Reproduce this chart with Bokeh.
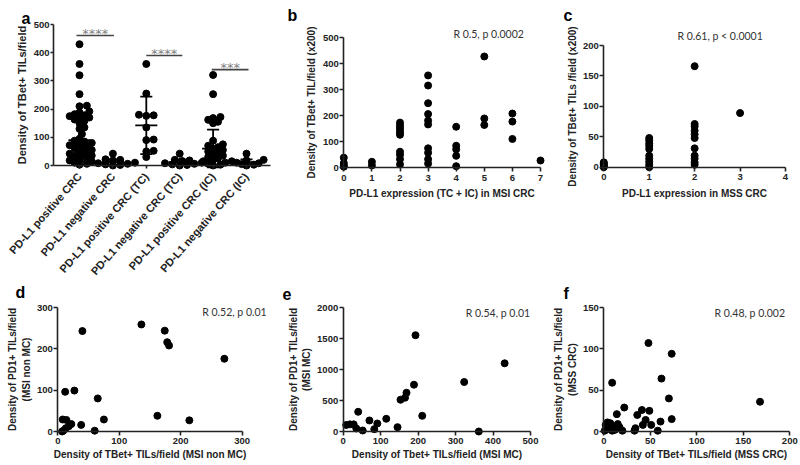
from bokeh.plotting import figure
from bokeh.models import Range1d, FixedTicker, Label
from bokeh.layouts import row, column
from bokeh.embed import file_html
from bokeh.resources import INLINE

# ---------------- data ----------------
# Panel a: density of TBet+ TILs/field per PD-L1 group
a_categories = ["PD-L1 positive CRC", "PD-L1 negative CRC", "PD-L1 positive CRC (TC)",
                "PD-L1 negative CRC (TC)", "PD-L1 positive CRC (IC)", "PD-L1 negative CRC (IC)"]
a_pos_crc = [430, 360, 320, 253, 212, 210, 192, 188, 182, 178, 175, 170, 168, 163, 158, 150,
             135, 130, 112, 95, 88, 85, 80, 76, 72, 68, 63, 58, 55, 50, 46, 42, 38, 35, 30,
             26, 22, 18, 14, 10, 6, 3]
a_neg_crc = [42, 22, 20, 18, 12, 10, 8, 6, 4, 2, 0]
a_pos_tc = [360, 255, 180, 178, 176, 135, 92, 90, 52, 50, 30]
a_neg_tc = [42, 20, 18, 16, 10, 8, 6, 4, 2, 0]
a_pos_ic = [321, 253, 172, 168, 162, 155, 150, 88, 75, 70, 65, 60, 55, 50, 45, 40, 35, 30,
            25, 20, 15, 10, 6, 3, 0]
a_neg_ic = [42, 20, 18, 15, 10, 8, 5, 3, 0]
a_mean = [90, 12, 142, 12, 60, 12]
a_sd = [75, 10, 102, 10, 67, 10]
a_sig_text = ["****", "****", "***"]
a_sig_from = [0.91, 3.0, 4.96]
a_sig_to = [2.03, 4.08, 6.06]
a_sig_y = [461, 390, 340]
a_yticks = [0, 100, 200, 300, 400, 500]

# Panel b: PD-L1 expression (TC + IC) in MSI CRC vs TBet+ density
b_x = [0, 0, 0, 0, 1, 1, 2, 2, 2, 2, 2, 2, 2, 2, 2, 2, 3, 3, 3, 3, 3, 3, 3, 3, 3, 3,
       4, 4, 4, 4, 4, 5, 5, 5, 6, 6, 6, 7]
b_y = [38, 17, 9, 3, 22, 8, 173, 163, 153, 143, 133, 126, 61, 49, 32, 12,
       355, 316, 248, 206, 181, 166, 74, 57, 32, 15,
       157, 84, 70, 45, 5, 428, 189, 164, 208, 177, 110, 27]
b_xticks = [0, 1, 2, 3, 4, 5, 6, 7]
b_yticks = [0, 100, 200, 300, 400, 500]

# Panel c: PD-L1 expression in MSS CRC vs TBet+ density
c_x = [0, 0, 0, 0, 0, 1, 1, 1, 1, 1, 1, 1, 1, 1, 1,
       2, 2, 2, 2, 2, 2, 2, 2, 2, 2, 2, 3]
c_y = [8, 6, 4, 2, 0, 48, 44, 39, 35, 30, 19, 14, 9, 4, 0,
       166, 71, 67, 60, 54, 48, 31, 19, 14, 8, 4, 89]
c_xticks = [0, 1, 2, 3, 4]
c_yticks = [0, 50, 100, 150, 200]

# Panel d: MSI non MC
d_x = [40, 136, 174, 178, 181, 271, 12, 27, 65, 8, 14, 75, 162, 214, 38, 22, 18, 13, 9, 60, 7]
d_y = [243, 259, 244, 216, 208, 176, 96, 99, 80, 29, 28, 29, 38, 27, 16, 18, 13, 8, 2, 2, 0]
d_xticks = [0, 100, 200, 300]
d_yticks = [0, 100, 200, 300]

# Panel e: MSI MC
e_x = [193, 431, 323, 189, 169, 165, 153, 211, 40, 115, 70, 91, 8, 18, 28, 35, 52, 83, 145, 362]
e_y = [1553, 1100, 798, 755, 625, 545, 512, 253, 318, 205, 178, 129, 105, 115, 115, 49, 16, 38,
       70, 0]
e_xticks = [0, 100, 200, 300, 400, 500]
e_yticks = [0, 500, 1000, 1500, 2000]

# Panel f: MSS CRC
f_x = [48, 73, 62, 9, 70, 168, 22, 41, 49, 14, 36, 61, 73, 45, 42, 51, 34, 33, 58, 15, 17, 20,
       2, 4, 7, 3, 6, 10, 1, 9, 12]
f_y = [107, 94, 64, 59, 40, 36, 29, 26, 25, 21, 20, 12, 15, 14, 8, 8, 4, 1, 1, 9, 5, 1,
       8, 11, 10, 5, 3, 6, 1, 1, 2]
f_xticks = [0, 50, 100, 150, 200]
f_yticks = [0, 50, 100, 150]

# ---------------- styling helpers ----------------
FONT = "Liberation Sans"
TXT = "#222222"
AX = "#222222"
NOTE_FONT = "Lato"


def make_fig(cx, cy, w, h, xa, xa_px, xb, xb_px, ya, ya_py, yb, yb_py):
    """Figure whose frame fills the whole canvas; the page pixel positions of two
    values per axis fix the ranges (cx, cy = page position of the canvas)."""
    ppx = (xb_px - xa_px) / (xb - xa)
    x0 = xa - (xa_px - cx) / ppx
    ppy = (ya_py - yb_py) / (yb - ya)
    y0 = ya - (cy + h - ya_py) / ppy
    p = figure(width=w, height=h, x_range=Range1d(x0, x0 + w / ppx),
               y_range=Range1d(y0, y0 + h / ppy), output_backend="svg",
               toolbar_location=None, min_border=0)
    p.outline_line_color = None
    p.xgrid.visible = False
    p.ygrid.visible = False
    p.background_fill_color = "white"
    p.border_fill_color = "white"
    p._cx, p._cy, p._h = cx, cy, h
    return p


def style_axis(ax, ticks, label, loc, bounds, label_size="10px", tick_out=4,
               tick_standoff=1, label_standoff=2, tick_size="9.5px"):
    ax.fixed_location = loc
    ax.bounds = bounds
    ax.ticker = FixedTicker(ticks=ticks)
    ax.axis_line_color = AX
    ax.axis_line_width = 1.6
    ax.major_tick_line_color = AX
    ax.major_tick_line_width = 1.6
    ax.major_tick_in = 0
    ax.major_tick_out = tick_out
    ax.minor_tick_line_color = None
    ax.major_label_text_font = FONT
    ax.major_label_text_font_style = "bold"
    ax.major_label_text_font_size = tick_size
    ax.major_label_text_color = TXT
    ax.major_label_standoff = tick_standoff
    ax.axis_label = label
    ax.axis_label_text_font = FONT
    ax.axis_label_text_font_style = "bold"
    ax.axis_label_text_font_size = label_size
    ax.axis_label_text_color = TXT
    ax.axis_label_standoff = label_standoff


def letter(p, text, page_x, page_baseline):
    p.add_layout(Label(x=page_x - p._cx, y=p._cy + p._h - page_baseline,
                       x_units="screen", y_units="screen", text=text,
                       text_font=FONT, text_font_style="bold", text_font_size="16px",
                       text_color="black", text_baseline="alphabetic"))


def note(p, text, x, y):
    p.add_layout(Label(x=x, y=y, text=text, text_font=NOTE_FONT, text_font_size="10.5px",
                       text_color="#333333", text_align="left", text_baseline="middle"))


def swarm(vals, center, ppx, ppy, diam=7.0):
    order = sorted(range(len(vals)), key=lambda i: vals[i])
    placed = []
    out = [0.0] * len(vals)
    for i in order:
        yp = vals[i] * ppy
        k = 0
        while True:
            off = 0.0 if k == 0 else ((k + 1) // 2) * 0.35 * diam * (1 if k % 2 else -1)
            if all((off - px) ** 2 + (yp - py) ** 2 >= (0.72 * diam) ** 2 for px, py in placed):
                break
            k += 1
        placed.append((off, yp))
        out[i] = center + off / ppx
    return out


TOP_H = 279
BOT_Y = TOP_H
BOT_H = 465 - TOP_H

# ---------------- panel a ----------------
A_X0, A_X1 = 0.222, 6.72
pa = make_fig(0, 0, 282, TOP_H, 1, 79, 6, 246, 0, 165, 500, 24)
style_axis(pa.yaxis, a_yticks, "Density of TBet+ TILs/field", A_X0, (0, 500),
           label_size="11px", tick_out=3, tick_standoff=1, label_standoff=3)
style_axis(pa.xaxis, [1, 2, 3, 4, 5, 6], "", 0, (A_X0, A_X1), tick_out=3,
           tick_standoff=6, tick_size="11px")
pa.xaxis.major_label_overrides = {i + 1: c for i, c in enumerate(a_categories)}
pa.xaxis.major_label_orientation = 0.85

a_groups = [a_pos_crc, a_neg_crc, a_pos_tc, a_neg_tc, a_pos_ic, a_neg_ic]
for gi, vals in enumerate(a_groups):
    cxp = gi + 1
    xs = swarm(vals, cxp, 33.4, 0.282)
    pa.scatter(x=xs, y=vals, size=7, color="black")
    m, s = a_mean[gi], a_sd[gi]
    pa.segment(x0=[cxp - 0.33, cxp, cxp - 0.18, cxp - 0.18], y0=[m, m - s, m + s, m - s],
               x1=[cxp + 0.33, cxp, cxp + 0.18, cxp + 0.18], y1=[m, m + s, m + s, m - s],
               line_color="black", line_width=1.8)

pa.segment(x0=a_sig_from, x1=a_sig_to, y0=a_sig_y, y1=a_sig_y, line_color="#444444",
           line_width=1.6)
for t, x0, x1, yv in zip(a_sig_text, a_sig_from, a_sig_to, a_sig_y):
    pa.add_layout(Label(x=(x0 + x1) / 2, y=yv + 8, text=t, text_font="DejaVu Sans",
                        text_font_size="13px", text_color="#808080", text_align="center",
                        text_baseline="middle"))
letter(pa, "a", 21, 18)

# ---------------- panel b ----------------
pb = make_fig(282, 0, 280, TOP_H, 0, 343.3, 7, 540, 0, 167, 500, 37.3)
style_axis(pb.xaxis, b_xticks, "PD-L1 expression (TC + IC) in MSI CRC", 0, (0, 7),
           tick_standoff=3, label_standoff=4)
style_axis(pb.yaxis, b_yticks, "Density of TBet+ TIL/field (x200)", 0, (0, 500),
           tick_standoff=1, label_standoff=3)
pb.scatter(x=b_x, y=b_y, size=7, color="black")
note(pb, "R 0.5, p 0.0002", 3.90, 513)
letter(pb, "b", 287, 15)

# ---------------- panel c ----------------
pc = make_fig(562, 0, 238, TOP_H, 0, 603.3, 4, 785, 0, 166.7, 200, 45)
style_axis(pc.xaxis, c_xticks, "PD-L1 expression in MSS CRC", 0, (0, 4),
           tick_standoff=3, label_standoff=4)
style_axis(pc.yaxis, c_yticks, "Density of TBet+ TILs /field (x200)", 0, (0, 200),
           tick_standoff=1, label_standoff=2)
pc.scatter(x=c_x, y=c_y, size=7, color="black")
note(pc, "R 0.61, p < 0.0001", 1.62, 216)
letter(pc, "c", 563, 15)

# ---------------- panel d ----------------
pd_ = make_fig(0, BOT_Y, 280, BOT_H, 0, 57.3, 300, 241.7, 0, 431, 300, 307)
style_axis(pd_.xaxis, d_xticks, "Density of TBet+ TILs/field (MSI non MC)", 0, (0, 300),
           tick_standoff=2, label_standoff=2, tick_size="9.5px")
style_axis(pd_.yaxis, d_yticks, "Density of PD1+ TILs/field\n(MSI non MC)", 0, (0, 300),
           tick_standoff=1, label_standoff=2)
pd_.scatter(x=d_x, y=d_y, size=7, color="black")
note(pd_, "R 0.52, p 0.01", 235, 288)
letter(pd_, "d", 15, 292)

# ---------------- panel e ----------------
pe = make_fig(280, BOT_Y, 272, BOT_H, 0, 342.7, 500, 530, 0, 431, 2000, 307)
style_axis(pe.xaxis, e_xticks, "Density of Tbet+ TILs/field (MSI MC)", 0, (0, 500),
           tick_standoff=2, label_standoff=2, tick_size="9.5px")
style_axis(pe.yaxis, e_yticks, "Density of PD1+ TILs/field\n(MSI MC)", 0, (0, 2000),
           tick_standoff=1, label_standoff=2)
pe.scatter(x=e_x, y=e_y, size=7, color="black")
note(pe, "R 0.54, p 0.01", 327, 1919)
letter(pe, "e", 282, 293)

# ---------------- panel f ----------------
pf = make_fig(552, BOT_Y, 248, BOT_H, 0, 603.3, 200, 789.3, 0, 431, 150, 307)
style_axis(pf.xaxis, f_xticks, "Density of TBet+ TILs/field (MSS CRC)", 0, (0, 200),
           tick_standoff=2, label_standoff=2, tick_size="9.5px")
style_axis(pf.yaxis, f_yticks, "Density of PD1+ TILs/field\n(MSS CRC)", 0, (0, 150),
           tick_standoff=1, label_standoff=2)
pf.scatter(x=f_x, y=f_y, size=7, color="black")
note(pf, "R 0.48, p 0.002", 119, 143)
letter(pf, "f", 563, 293)

layout = column(row(pa, pb, pc), row(pd_, pe, pf))
open("out.html", "w").write(file_html(layout, INLINE))
